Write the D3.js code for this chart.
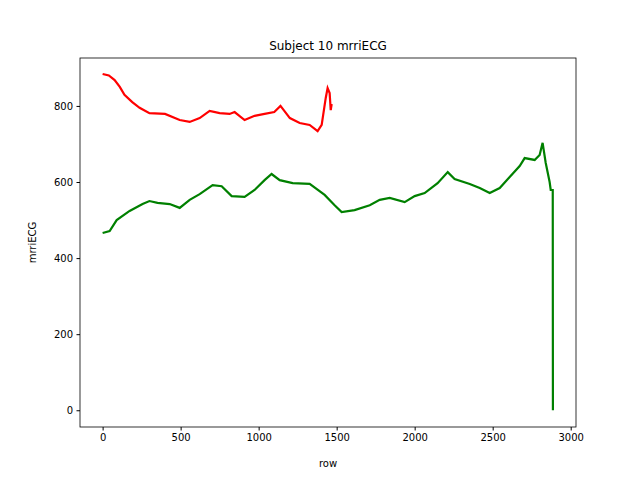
<!DOCTYPE html>
<html>
<head>
<meta charset="utf-8">
<script src="https://cdn.jsdelivr.net/npm/d3@7"></script>
<style>
  body { margin: 0; background: #fff; }
  text { font-family: "DejaVu Sans", sans-serif; }
</style>
</head>
<body>
<svg id="chart" width="640" height="480"></svg>
<script>
// values
const redRows = [0, 40, 77, 110, 140, 190, 237, 300, 400, 494, 558, 622, 686, 750, 814, 846, 910, 974, 1038, 1100, 1140, 1200, 1263, 1327, 1378, 1404, 1430, 1442, 1455, 1462, 1468];
const redVals = [884, 880, 868, 850, 829, 810, 795, 781, 779, 763, 758, 768, 787, 781, 779, 784, 763, 774, 779, 784, 800, 768, 755, 750, 734, 750, 821, 847, 834, 789, 805];
const greenRows = [0, 45, 90, 173, 256, 300, 352, 430, 494, 558, 622, 705, 763, 827, 910, 974, 1038, 1083, 1135, 1218, 1327, 1423, 1487, 1532, 1615, 1712, 1776, 1840, 1936, 2000, 2064, 2147, 2212, 2256, 2353, 2417, 2481, 2545, 2609, 2673, 2705, 2769, 2801, 2820, 2840, 2865, 2872, 2885, 2886];
const greenVals = [466, 471, 500, 524, 542, 550, 545, 542, 532, 553, 568, 592, 589, 563, 561, 579, 605, 621, 605, 597, 595, 566, 539, 521, 526, 539, 553, 558, 547, 563, 571, 597, 626, 608, 595, 584, 571, 584, 613, 642, 663, 658, 671, 703, 650, 600, 579, 579, 0];
const xTicks = [0, 500, 1000, 1500, 2000, 2500, 3000];
const yTicks = [0, 200, 400, 600, 800];

const svg = d3.select("#chart");
const plotLeft = 80, plotRight = 576, plotTop = 58, plotBottom = 427;

const x = d3.scaleLinear().domain([-145, 3034]).range([plotLeft, plotRight]);
const y = d3.scaleLinear().domain([-44, 926]).range([plotBottom, plotTop]);

const line = d3.line().x(d => x(d[0])).y(d => y(d[1]));

svg.append("path")
    .datum(d3.zip(redRows, redVals))
    .attr("d", line)
    .attr("fill", "none")
    .attr("stroke", "red")
    .attr("stroke-width", 2.2);

svg.append("path")
    .datum(d3.zip(greenRows, greenVals))
    .attr("d", line)
    .attr("fill", "none")
    .attr("stroke", "green")
    .attr("stroke-width", 2.2);

const xAxis = svg.append("g")
    .attr("transform", `translate(0,${plotBottom})`)
    .call(d3.axisBottom(x).tickValues(xTicks).tickSize(3.5).tickPadding(3.5).tickFormat(d3.format("d")));
const yAxis = svg.append("g")
    .attr("transform", `translate(${plotLeft},0)`)
    .call(d3.axisLeft(y).tickValues(yTicks).tickSize(3.5).tickPadding(3.5).tickFormat(d3.format("d")));
[xAxis, yAxis].forEach(a => {
    a.select(".domain").remove();
    a.selectAll("text").attr("font-size", 10).attr("fill", "#000")
        .style("font-family", "DejaVu Sans, sans-serif");
});

svg.append("rect")
    .attr("x", plotLeft).attr("y", plotTop)
    .attr("width", plotRight - plotLeft).attr("height", plotBottom - plotTop)
    .attr("fill", "none").attr("stroke", "#000").attr("stroke-width", 0.8);

svg.append("text")
    .attr("x", (plotLeft + plotRight) / 2).attr("y", plotTop - 8)
    .attr("text-anchor", "middle").attr("font-size", 12)
    .text("Subject 10 mrriECG");

svg.append("text")
    .attr("x", (plotLeft + plotRight) / 2).attr("y", 467)
    .attr("text-anchor", "middle").attr("font-size", 10)
    .text("row");

svg.append("text")
    .attr("transform", `translate(36,${(plotTop + plotBottom) / 2}) rotate(-90)`)
    .attr("text-anchor", "middle").attr("font-size", 10)
    .text("mrriECG");
</script>
</body>
</html>
